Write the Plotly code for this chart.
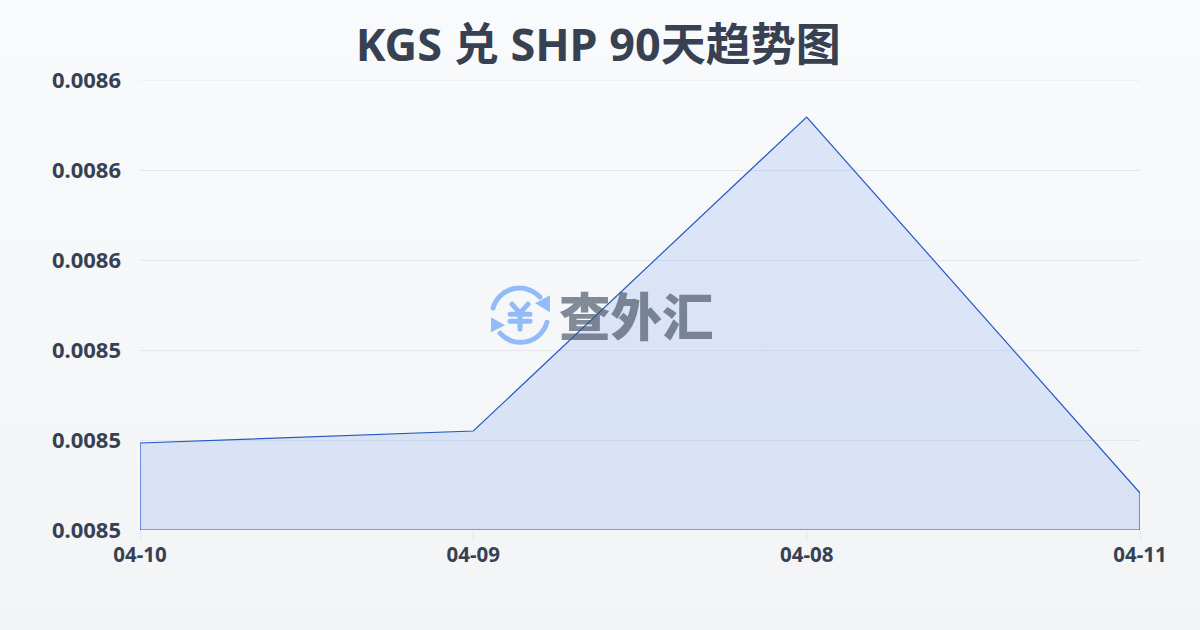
import plotly.graph_objects as go

dates = ["04-10", "04-09", "04-08", "04-11"]
rates = [0.00851933, 0.008522, 0.00859178, 0.00850822]
y_ticks = [0.0085, 0.00852, 0.00854, 0.00856, 0.00858, 0.0086]

TEXT = "#374151"
FONT = "Noto Sans, Noto Sans CJK SC, sans-serif"

# logo for the watermark, arcs + yen sign
logo = (
    "data:image/svg+xml;utf8,"
    "<svg xmlns='http://www.w3.org/2000/svg' viewBox='0 0 60 60'>"
    "<g fill='none' stroke='%2393BBF8' stroke-width='5' stroke-linecap='round'>"
    "<path d='M3 23 A 27.5 27.5 0 0 1 50 12'/>"
    "<path d='M57 37 A 27.5 27.5 0 0 1 10 48'/>"
    "<path d='M22 19 L30 28 L38 19 M30 28 V44 M20 29 H40 M20 36 H40'/>"
    "</g>"
    "<path d='M60 10 L60 27 L45 18 Z M1 32 L1 47 L15 40 Z' fill='%2393BBF8'/>"
    "</svg>"
)

fig = go.Figure()

# closed outline, so the stroke runs down the sides and along the bottom too
fig.add_trace(
    go.Scatter(
        x=dates + [dates[-1], dates[0], dates[0]],
        y=rates + [y_ticks[0], y_ticks[0], rates[0]],
        mode="lines",
        fill="toself",
        fillcolor="rgba(37,99,235,0.13)",
        line=dict(color="#2358c5", width=1.2),
        cliponaxis=False,
        hoverinfo="skip",
    )
)

# plotly drops the gridline sitting on the top edge of the range
fig.add_shape(
    type="line",
    xref="paper",
    yref="y",
    x0=0,
    x1=1,
    y0=y_ticks[-1],
    y1=y_ticks[-1],
    line=dict(color="#e5e7eb", width=1),
    layer="below",
)

fig.add_layout_image(
    source=logo,
    xref="paper",
    yref="paper",
    x=0.35,
    y=0.544,
    sizex=0.06,
    sizey=0.1333,
    sizing="contain",
    xanchor="left",
    yanchor="top",
    layer="above",
)

fig.add_annotation(
    text="查外汇",
    xref="paper",
    yref="paper",
    x=0.496,
    y=0.482,
    showarrow=False,
    font=dict(family="Noto Sans CJK SC", size=51.5, color="rgba(75,85,105,0.68)", weight=900),
)

fig.update_layout(
    width=1200,
    height=630,
    showlegend=False,
    paper_bgcolor="rgba(0,0,0,0)",
    plot_bgcolor="rgba(0,0,0,0)",
    margin=dict(l=140, r=60, t=80, b=100),
    font=dict(family=FONT, color=TEXT),
    title=dict(
        text="KGS 兑 SHP 90天趋势图",
        x=0.4985,
        xanchor="center",
        y=0.928,
        yanchor="middle",
        font=dict(family=FONT, size=45, color=TEXT, weight=700),
    ),
    xaxis=dict(
        type="category",
        categoryorder="array",
        categoryarray=dates,
        range=[0, len(dates) - 1],
        showgrid=False,
        showline=False,
        zeroline=False,
        ticks="outside",
        ticklen=10,
        tickcolor="#e5e7eb",
        ticklabelstandoff=-4,
        tickfont=dict(size=20.5, color=TEXT, weight=700),
    ),
    yaxis=dict(
        range=[y_ticks[0], y_ticks[-1]],
        tickvals=y_ticks,
        tickformat=".4f",
        showgrid=True,
        gridcolor="#e5e7eb",
        gridwidth=1,
        zeroline=False,
        showline=False,
        ticks="",
        ticklabelstandoff=18,
        tickfont=dict(size=22, color=TEXT, weight=700),
    ),
)

page_style = """
document.body.style.margin = '0';
document.body.style.background = 'linear-gradient(180deg, #f8fafc 0%, #f3f4f6 100%)';
document.body.style.minHeight = '630px';
"""

fig.write_html("out.html", post_script=page_style, config={"displayModeBar": False})
